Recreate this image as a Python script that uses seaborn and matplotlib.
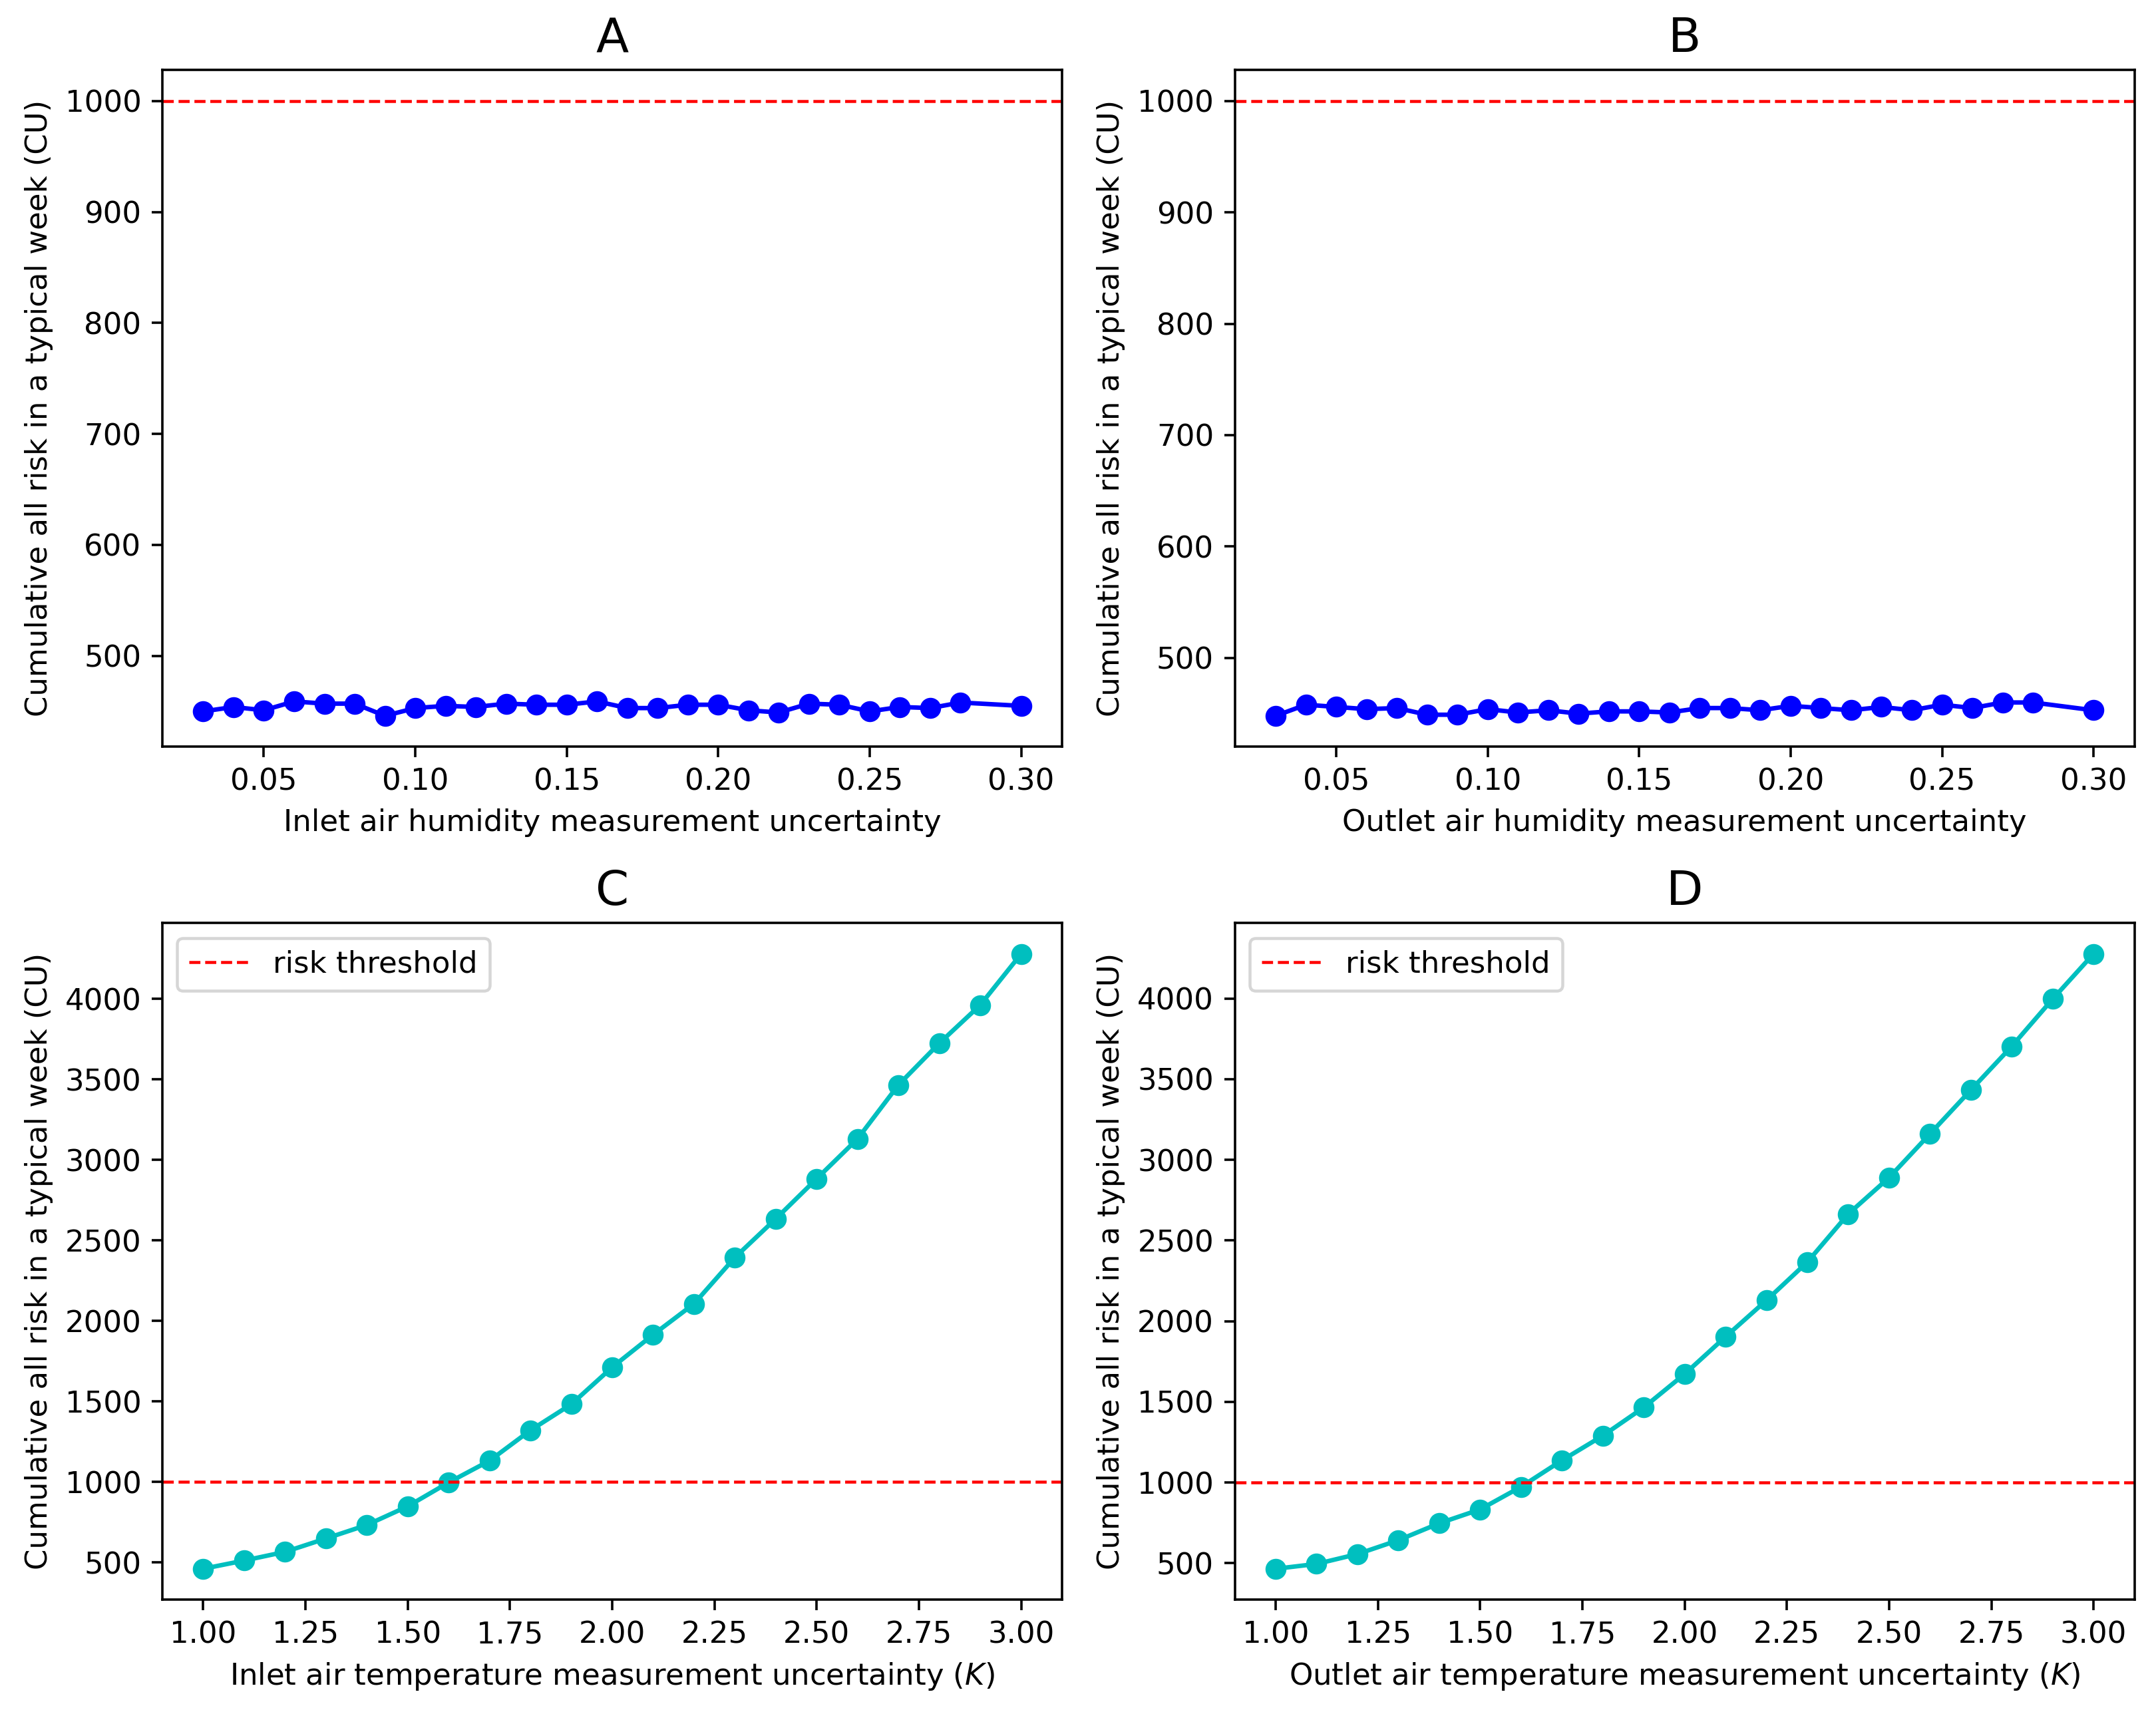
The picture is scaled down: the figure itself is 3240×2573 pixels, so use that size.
import numpy as np
import pandas as pd
import seaborn as sns
import matplotlib
matplotlib.use('Agg')
import matplotlib.pyplot as plt

# humidity uncertainty (panels A, B)
hum_x = [0.03, 0.04, 0.05, 0.06, 0.07, 0.08, 0.09, 0.10, 0.11, 0.12, 0.13, 0.14,
         0.15, 0.16, 0.17, 0.18, 0.19, 0.20, 0.21, 0.22, 0.23, 0.24, 0.25, 0.26,
         0.27, 0.28, 0.30]
risk_inlet_hum = [450, 454, 451, 459, 457, 457, 446, 453, 455, 454, 457, 456,
                  456, 459, 453, 453, 456, 456, 451, 449, 457, 456, 450, 454,
                  453, 458, 455]
risk_outlet_hum = [448, 458, 456, 454, 455, 449, 449, 454, 451, 453, 450, 452,
                   452, 451, 455, 455, 453, 457, 455, 453, 456, 453, 458, 455,
                   460, 460, 453]

# temperature uncertainty (panels C, D)
temp_x = [1.0, 1.1, 1.2, 1.3, 1.4, 1.5, 1.6, 1.7, 1.8, 1.9, 2.0,
          2.1, 2.2, 2.3, 2.4, 2.5, 2.6, 2.7, 2.8, 2.9, 3.0]
risk_inlet_temp = [460, 511, 565, 648, 732, 848, 996, 1131, 1320, 1482, 1712,
                   1914, 2106, 2394, 2634, 2883, 3131, 3466, 3725, 3962, 4280]
risk_outlet_temp = [465, 495, 556, 642, 747, 833, 973, 1137, 1290, 1465, 1672,
                    1903, 2129, 2366, 2664, 2890, 3161, 3433, 3704, 3997, 4277]

threshold = 1000
ylab = 'Cumulative all risk in a typical week (CU)'

panels = [
    ('A', hum_x, risk_inlet_hum, 'b', 'Inlet air humidity measurement uncertainty', False),
    ('B', hum_x, risk_outlet_hum, 'b', 'Outlet air humidity measurement uncertainty', False),
    ('C', temp_x, risk_inlet_temp, 'c', 'Inlet air temperature measurement uncertainty ($K$)', True),
    ('D', temp_x, risk_outlet_temp, 'c', 'Outlet air temperature measurement uncertainty ($K$)', True),
]

fig, axes = plt.subplots(2, 2, figsize=(10, 2573 / 324))

for ax, (title, x, y, col, xlab, show_leg) in zip(axes.flat, panels):
    sns.lineplot(x=x, y=y, ax=ax, color=col, marker='o', markersize=6,
                 markeredgecolor=col, markeredgewidth=1, linewidth=1.5)
    ax.axhline(threshold, color='r', linestyle='--', linewidth=1, label='risk threshold')
    ax.set_title(title, fontsize=16)
    ax.set_xlabel(xlab)
    ax.set_ylabel(ylab)
    if show_leg:
        ax.legend(loc='upper left')
    elif ax.get_legend() is not None:
        ax.get_legend().remove()

plt.subplots_adjust(left=0.0753, right=0.990, top=0.959, bottom=0.0657,
                    wspace=0.192, hspace=0.261)
plt.savefig('out.png', dpi=324)
